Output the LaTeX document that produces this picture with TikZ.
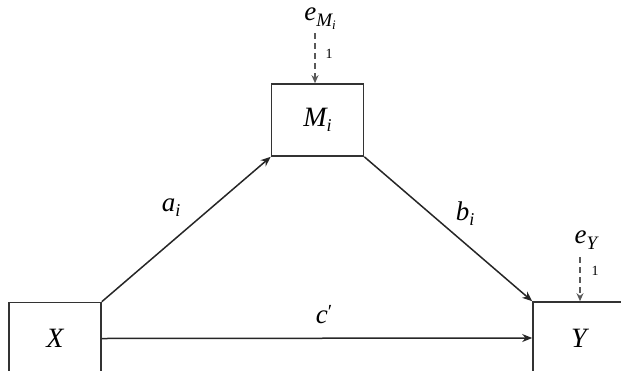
\documentclass[tikz,border=0pt]{standalone}
\usepackage{fontspec}
\setmainfont{Liberation Serif}
\usetikzlibrary{arrows.meta}
\newcommand{\subM}[1]{\raisebox{-5pt}{\fontsize{18}{18}\selectfont\itshape #1}}
\newcommand{\subS}[1]{\raisebox{-3pt}{\fontsize{13}{13}\selectfont\itshape #1}}
\begin{document}
\begin{tikzpicture}[x=1pt,y=1pt,
  boxnode/.style={draw=black!80,line width=1.6pt,minimum width=92pt,minimum height=72pt,inner sep=0pt,font=\fontsize{28}{30}\selectfont\itshape},
  lbl/.style={font=\fontsize{27}{28}\selectfont\itshape,inner sep=0pt},
  onelbl/.style={font=\fontsize{14}{15}\selectfont,inner sep=0pt},
  conn/.style={draw=black!85,line width=1.5pt,-{Stealth[length=10pt,width=8pt]}},
  errconn/.style={draw=black!65,line width=2pt,dash pattern=on 6pt off 4pt,-{Stealth[length=8pt,width=7pt]}}]
\useasboundingbox (0,0) rectangle (621,-370);
\clip (0,0) rectangle (621,-370);
\node[boxnode] (X) at (55,-338.5) {X};
\node[boxnode] (M) at (317.5,-120) {M\subM{i}};
\node[boxnode] (Y) at (579,-338) {Y};
\coordinate (eMs) at (315,-33);
\coordinate (eYs) at (580,-257);
\node[lbl] (eM) at (320,-19) {e\raisebox{-6pt}{\fontsize{19}{19}\selectfont\itshape M\subS{i}}};
\node[lbl] (eY) at (586,-240) {e\raisebox{-6pt}{\fontsize{19}{19}\selectfont\itshape Y}};
\node[onelbl] (oneM) at (329,-54) {1};
\node[onelbl] (oneY) at (595,-271) {1};
\draw[conn] (X.north east) -- (M.south west);
\draw[conn] (M.south east) -- (Y.north west);
\draw[conn] (X.east) -- (Y.west);
\draw[errconn] (eMs) -- (M.north -| eMs);
\draw[errconn] (eYs) -- (Y.north -| eYs);
\node[lbl] (a) at (171,-208) {a\subM{i}};
\node[lbl] (b) at (465,-214) {b\subM{i}};
\node[lbl] (c) at (324,-315) {c\raisebox{5pt}{\upshape\fontsize{20}{20}\selectfont′}};
\end{tikzpicture}
\end{document}
